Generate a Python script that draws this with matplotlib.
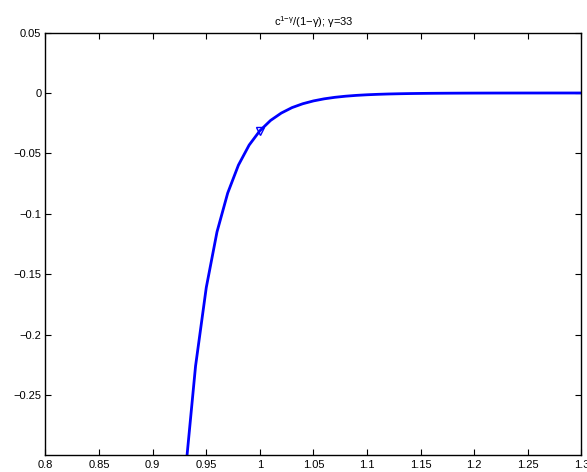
import numpy as np
import matplotlib
matplotlib.use('Agg')
import matplotlib.pyplot as plt

plt.rcParams['font.family'] = ['Liberation Sans', 'DejaVu Sans']
plt.rcParams['mathtext.fontset'] = 'custom'
plt.rcParams['mathtext.rm'] = 'Liberation Sans'
plt.rcParams['mathtext.it'] = 'Liberation Sans'

# consumption grid and utility
c = [0.92, 0.93, 0.94, 0.95, 0.96, 0.97, 0.98, 0.99, 1.00, 1.01,
     1.02, 1.03, 1.04, 1.05, 1.06, 1.07, 1.08, 1.09, 1.10, 1.11,
     1.12, 1.13, 1.14, 1.15, 1.16, 1.17, 1.18, 1.19, 1.20, 1.21,
     1.22, 1.23, 1.24, 1.25, 1.26, 1.27, 1.28, 1.29, 1.30]
u = [-0.450, -0.319, -0.226, -0.161, -0.115, -0.0828, -0.0597, -0.0431, -0.03125, -0.0227,
     -0.0166, -0.0121, -0.00891, -0.00656, -0.00484, -0.00358, -0.00266, -0.00198, -0.00148, -0.00111,
     -0.00083, -0.00063, -0.00047, -0.00036, -0.00027, -0.00021, -0.00016, -0.00012, -0.00009, -0.00007,
     -0.00005, -0.00004, -0.00003, -0.00002, -0.00002, -0.00001, -0.00001, -0.00001, -0.00001]
mark_c = [1.0]
mark_u = [-0.03125]

xticks = [0.8, 0.85, 0.9, 0.95, 1, 1.05, 1.1, 1.15, 1.2, 1.25, 1.3]
xticklabels = ['0.8', '0.85', '0.9', '0.95', '1', '1.05', '1.1', '1.15', '1.2', '1.25', '1.3']
yticks = [-0.25, -0.2, -0.15, -0.1, -0.05, 0, 0.05]
yticklabels = ['\u22120.25', '\u22120.2', '\u22120.15', '\u22120.1', '\u22120.05', '0', '0.05']
title = 'c$^{\\mathregular{1{\u2212}\u03b3}}$/(1\u2212\u03b3); \u03b3=33'

fig = plt.figure(figsize=(5.87, 4.72), dpi=100)
ax = fig.add_axes([0.0775, 0.035, 0.913, 0.896])

ax.plot(c, u, color='#0000ff', lw=2)
ax.plot(mark_c, mark_u, linestyle='none', marker='v', markersize=5.5,
        markerfacecolor='none', markeredgecolor='#0000ff', markeredgewidth=1)

ax.set_xlim(0.8, 1.3)
ax.set_ylim(-0.30, 0.05)
ax.set_xticks(xticks)
ax.set_xticklabels(xticklabels)
ax.set_yticks(yticks)
ax.set_yticklabels(yticklabels)
ax.tick_params(direction='in', top=True, right=True, length=4, width=0.8,
               labelsize=8, pad=3)
for s in ax.spines.values():
    s.set_linewidth(1)

ax.set_title(title, fontsize=8, pad=5)

fig.savefig('out.png', dpi=100)
